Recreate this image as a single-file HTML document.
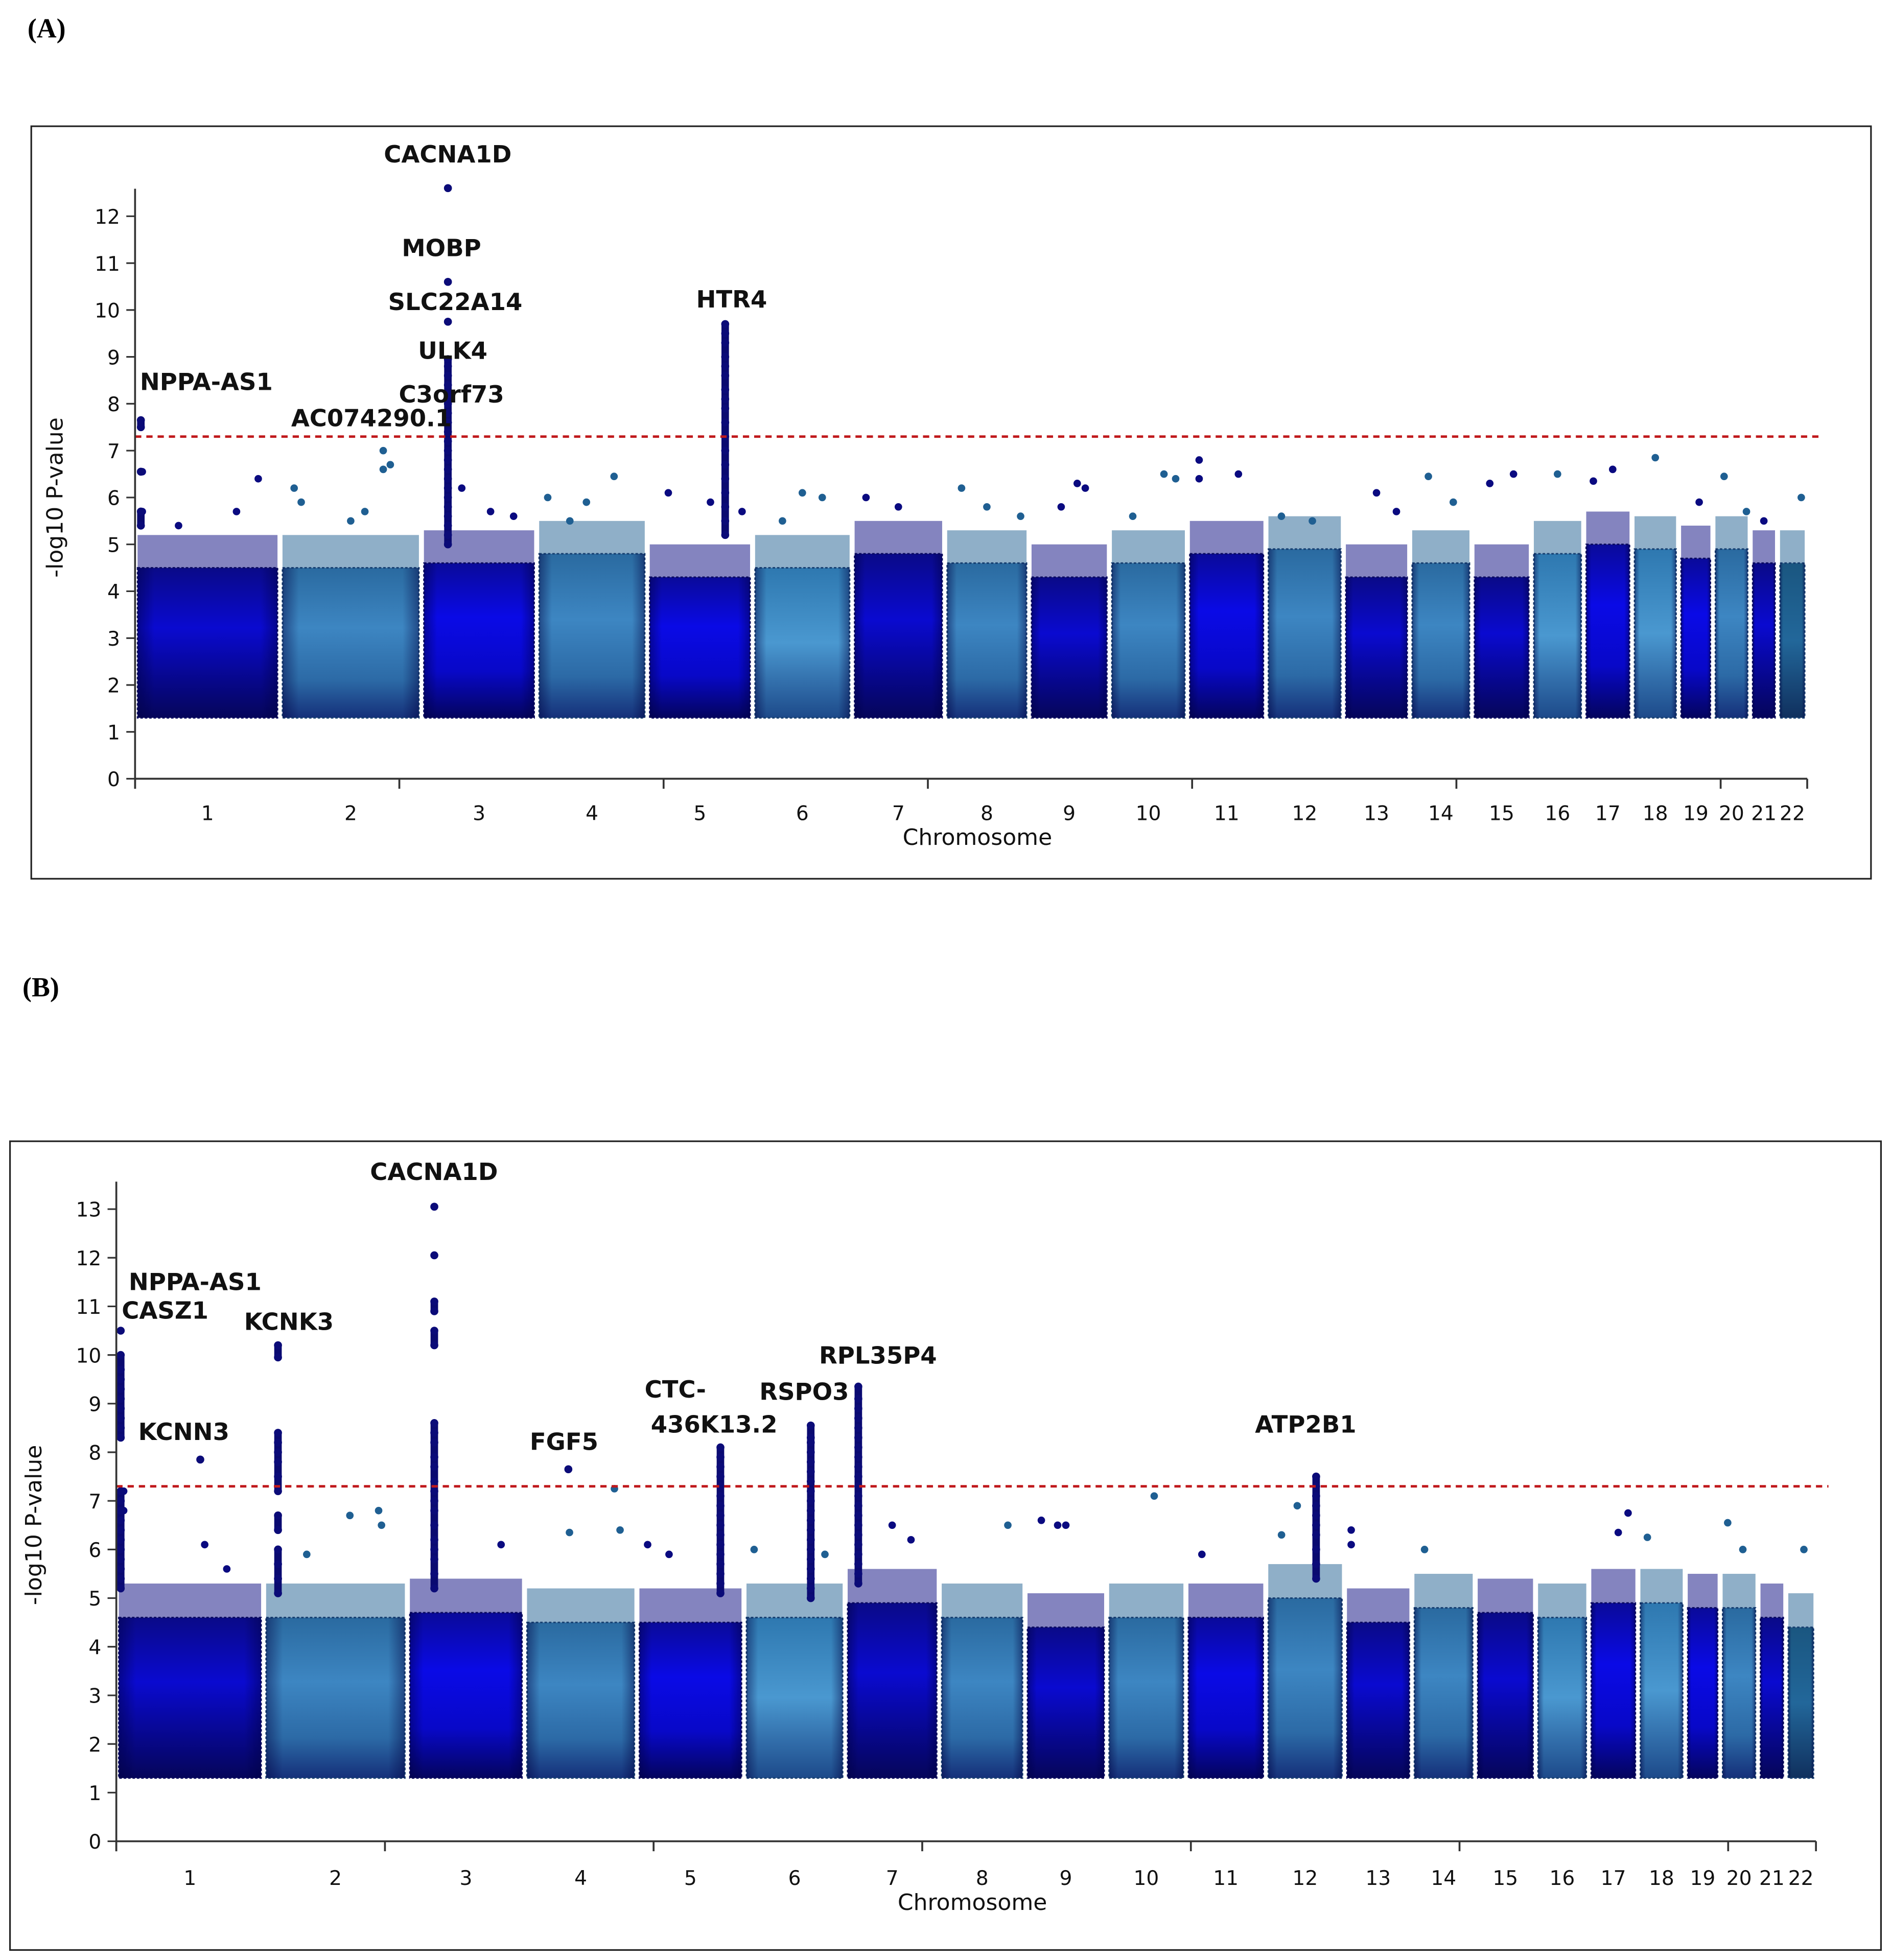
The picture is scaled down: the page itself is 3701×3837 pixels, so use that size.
<!DOCTYPE html>
<html><head><meta charset="utf-8"><style>
html,body{margin:0;padding:0;background:#fff;}
svg{display:block;}
text{font-family:"DejaVu Sans","Liberation Sans",sans-serif;}
</style></head><body>
<svg id="fig" width="3701" height="3837" viewBox="0 0 1512 1568" preserveAspectRatio="none" xmlns="http://www.w3.org/2000/svg">
<defs>
<linearGradient id="gBlue" x1="0" y1="0" x2="0" y2="1">
<stop offset="0" stop-color="#0a0a9a"/><stop offset="0.35" stop-color="#0a0ae6"/><stop offset="0.7" stop-color="#0808c8"/><stop offset="1" stop-color="#04045e"/></linearGradient>
<linearGradient id="gNavy" x1="0" y1="0" x2="0" y2="1">
<stop offset="0" stop-color="#0a0a88"/><stop offset="0.4" stop-color="#0a0ad0"/><stop offset="1" stop-color="#05055a"/></linearGradient>
<linearGradient id="gTeal" x1="0" y1="0" x2="0" y2="1">
<stop offset="0" stop-color="#2a6aa0"/><stop offset="0.4" stop-color="#3d86c2"/><stop offset="0.75" stop-color="#2c6aa6"/><stop offset="1" stop-color="#15307a"/></linearGradient>
<linearGradient id="gLight" x1="0" y1="0" x2="0" y2="1">
<stop offset="0" stop-color="#2e78b0"/><stop offset="0.5" stop-color="#4a98d0"/><stop offset="1" stop-color="#1d4a8a"/></linearGradient>
<linearGradient id="gSlate" x1="0" y1="0" x2="0" y2="1">
<stop offset="0" stop-color="#1a5680"/><stop offset="0.5" stop-color="#22679a"/><stop offset="1" stop-color="#10305e"/></linearGradient>
<linearGradient id="gEdge" x1="0" y1="0" x2="1" y2="0">
<stop offset="0" stop-color="#000040" stop-opacity="0.45"/><stop offset="0.12" stop-color="#000040" stop-opacity="0"/><stop offset="0.88" stop-color="#000040" stop-opacity="0"/><stop offset="1" stop-color="#000040" stop-opacity="0.45"/></linearGradient>
</defs>
<text x="22" y="30" font-weight="bold" font-size="22" style="font-family:'Liberation Serif',serif">(A)</text>
<text x="18" y="797" font-weight="bold" font-size="22" style="font-family:'Liberation Serif',serif">(B)</text>
<rect x="25" y="101" width="1471" height="602" fill="none" stroke="#222" stroke-width="1.3"/>
<rect x="8" y="913" width="1496" height="647" fill="none" stroke="#222" stroke-width="1.3"/>
<g id="pa"></g>
<g id="pb"></g>
</svg>
<script>
const chromosomes = ["1","2","3","4","5","6","7","8","9","10","11","12","13","14","15","16","17","18","19","20","21","22"];
const chromLengths = [249,243,198,190,181,171,159,145,138,134,135,133,114,107,102,90,83,80,59,64,47,51];
const chromFill = ["gNavy","gTeal","gBlue","gTeal","gBlue","gLight","gNavy","gTeal","gNavy","gTeal","gBlue","gTeal","gNavy","gTeal","gNavy","gLight","gBlue","gLight","gBlue","gTeal","gNavy","gSlate"];
const yTicksA = [0,1,2,3,4,5,6,7,8,9,10,11,12];
const yTicksB = [0,1,2,3,4,5,6,7,8,9,10,11,12,13];
const threshold = 7.3;
const blockBase = 1.3;
const aBlockTop = [4.5,4.5,4.6,4.8,4.3,4.5,4.8,4.6,4.3,4.6,4.8,4.9,4.3,4.6,4.3,4.8,5.0,4.9,4.7,4.9,4.6,4.6];
const bBlockTop = [4.6,4.6,4.7,4.5,4.5,4.6,4.9,4.6,4.4,4.6,4.6,5.0,4.5,4.8,4.7,4.6,4.9,4.9,4.8,4.8,4.6,4.4];
const aHits = [[1,.05,6.55],[1,.05,5.7],[1,.85,6.4],[1,.7,5.7],[1,.3,5.4],[2,.1,6.2],[2,.15,5.9],[2,.73,7.0],[2,.73,6.6],[2,.78,6.7],[2,.5,5.5],[2,.6,5.7],[3,.35,6.2],[3,.6,5.7],[3,.8,5.6],[4,.1,6.0],[4,.45,5.9],[4,.7,6.45],[4,.3,5.5],[5,.2,6.1],[5,.6,5.9],[5,.9,5.7],[6,.5,6.1],[6,.7,6.0],[6,.3,5.5],[7,.15,6.0],[7,.5,5.8],[8,.2,6.2],[8,.5,5.8],[8,.9,5.6],[9,.6,6.3],[9,.7,6.2],[9,.4,5.8],[10,.7,6.5],[10,.85,6.4],[10,.3,5.6],[11,.15,6.8],[11,.15,6.4],[11,.65,6.5],[12,.2,5.6],[12,.6,5.5],[13,.5,6.1],[13,.8,5.7],[14,.3,6.45],[14,.7,5.9],[15,.3,6.3],[15,.7,6.5],[16,.5,6.5],[17,.2,6.35],[17,.6,6.6],[18,.5,6.85],[19,.6,5.9],[20,.3,6.45],[20,.9,5.7],[21,.5,5.5],[22,.8,6.0]];
const bHits = [[1,.05,7.2],[1,.05,6.8],[1,.6,6.1],[1,.75,5.6],[2,.3,5.9],[2,.6,6.7],[2,.8,6.8],[2,.82,6.5],[3,.8,6.1],[4,.4,6.35],[4,.8,7.25],[4,.85,6.4],[5,.1,6.1],[5,.3,5.9],[6,.1,6.0],[6,.8,5.9],[7,.5,6.5],[7,.7,6.2],[8,.8,6.5],[9,.2,6.6],[9,.4,6.5],[9,.5,6.5],[10,.6,7.1],[11,.2,5.9],[12,.2,6.3],[12,.4,6.9],[13,.1,6.4],[13,.1,6.1],[14,.2,6.0],[17,.6,6.35],[17,.8,6.75],[18,.2,6.25],[20,.2,6.55],[20,.6,6.0],[22,.6,6.0]];
const aPeaks = [
 {chr:1,frac:.04,vals:[7.65,7.5,6.55,5.7,5.4]},
 {chr:3,frac:.23,vals:[12.6,10.6,9.75,8.95,8.8,8.6,8.4,8.2,8.0,7.8,7.6,7.4,7.2,7.0,6.8,6.6,6.4,6.2,6.0,5.8,5.6,5.4,5.2,5.0]},
 {chr:5,frac:.74,vals:[9.7,9.5,9.3,9.0,8.8,8.6,8.3,8.1,7.9,7.6,7.3,7.0,6.7,6.4,6.1,5.8,5.5,5.2]}
];
const bPeaks = [
 {chr:1,frac:.03,vals:[10.5,10.0,9.7,9.5,9.3,9.1,8.9,8.7,8.5,8.3,7.2,7.0,6.8,6.6,6.4,6.2,6.0,5.8,5.6,5.4,5.2]},
 {chr:1,frac:.57,vals:[7.85]},
 {chr:2,frac:.1,vals:[10.2,9.95,8.4,8.2,8.0,7.8,7.5,7.2,6.7,6.4,6.0,5.7,5.4,5.1]},
 {chr:3,frac:.23,vals:[13.05,12.05,11.1,10.9,10.5,10.2,8.6,8.4,8.2,7.9,7.7,7.4,7.2,7.0,6.8,6.5,6.2,6.0,5.8,5.5,5.2]},
 {chr:4,frac:.39,vals:[7.65]},
 {chr:5,frac:.78,vals:[8.1,7.9,7.7,7.5,7.3,7.1,6.9,6.7,6.5,6.3,6.1,5.9,5.7,5.5,5.3,5.1]},
 {chr:6,frac:.66,vals:[8.55,8.3,8.2,8.0,7.8,7.6,7.4,7.2,7.0,6.8,6.6,6.4,6.2,6.0,5.8,5.6,5.4,5.2,5.0]},
 {chr:7,frac:.14,vals:[9.35,9.1,8.9,8.7,8.5,8.3,8.1,7.9,7.7,7.5,7.3,7.1,6.9,6.7,6.5,6.3,6.1,5.9,5.7,5.5,5.3]},
 {chr:12,frac:.64,vals:[7.5,7.3,7.1,6.9,6.7,6.5,6.3,6.0,5.7,5.4]}
];
const aLabels = [["CACNA1D",358,130],["MOBP",353,205],["SLC22A14",364,248],["ULK4",362,287],["C3orf73",361,322],["AC074290.1",297,341],["NPPA-AS1",165,312],["HTR4",585,246]];
const bLabels = [["CACNA1D",347,944],["NPPA-AS1",156,1032],["CASZ1",132,1055],["KCNK3",231,1064],["KCNN3",147,1152],["FGF5",451,1160],["CTC-",540,1118],["436K13.2",571,1146],["RSPO3",643,1120],["RPL35P4",702,1091],["ATP2B1",1044,1146]];

const NS="http://www.w3.org/2000/svg";
function mk(tag,attrs,parent){const e=document.createElementNS(NS,tag);for(const k in attrs)e.setAttribute(k,attrs[k]);parent.appendChild(e);return e;}

function drawPanel(g,cfg,blockTop,hits,peaks,labels,yTicks,prefix){
  const total=chromLengths.reduce((a,b)=>a+b,0);
  const xs=[];let cum=0;
  for(let i=0;i<chromLengths.length;i++){xs.push(cum);cum+=chromLengths[i];}
  const X=(c,f)=>cfg.x0+(xs[c-1]+f*chromLengths[c-1])/total*(cfg.x1-cfg.x0);
  const Y=v=>cfg.y0-v*cfg.py;
  for(let i=0;i<chromosomes.length;i++){
    const xa=X(i+1,0)+2,xb=X(i+1,1)-2;
    const dark=chromFill[i]==="gBlue"||chromFill[i]==="gNavy";
    const fr=mk('rect',{x:xa,y:Y(blockTop[i]+0.7),width:xb-xa,height:0.7*cfg.py,fill:dark?'#0a0a80':'#1f5f92','fill-opacity':0.5},g);
    
    
    const r=mk('rect',{x:xa,y:Y(blockTop[i]),width:xb-xa,height:(blockTop[i]-blockBase)*cfg.py,fill:'url(#'+chromFill[i]+')',stroke:dark?'#0a0a60':'#163f70','stroke-width':1.2,'stroke-dasharray':'2 1.5'},g);
    
    
    const ed=mk('rect',{x:xa,y:Y(blockTop[i]),width:xb-xa,height:(blockTop[i]-blockBase)*cfg.py,fill:'url(#gEdge)'},g);
    
    
    const t=mk('text',{x:X(i+1,0.5),y:cfg.labY,'text-anchor':'middle','font-size':16,fill:'#111'},g);
    t.textContent=chromosomes[i];
    
    
  }
  hits.forEach(h=>{
    const i=h[0]-1;const dark=chromFill[i]==="gBlue"||chromFill[i]==="gNavy";
    const c=mk('circle',{cx:X(h[0],h[1]),cy:Y(h[2]),r:3,fill:dark?'#0a0a80':'#1f5f92'},g);
    
    
  });
  peaks.forEach(p=>{
    const x=X(p.chr,p.frac);
    const v=p.vals.filter(v=>v>blockTop[p.chr-1]);
    for(let k=0;k<v.length-1;k++){
      if(v[k]-v[k+1]<0.35){const ln=mk('line',{x1:x,y1:Y(v[k]),x2:x,y2:Y(v[k+1]),stroke:'#0a0a70','stroke-width':6},g);
      
      }
    }
    v.forEach(val=>{const c=mk('circle',{cx:x,cy:Y(val),r:3.2,fill:'#0b0b78'},g);
      
      });
  });
  const th=mk('line',{x1:cfg.x0,x2:cfg.x1+10,y1:Y(threshold),y2:Y(threshold),stroke:'#c0191c','stroke-width':2,'stroke-dasharray':'5 4'},g);
  
  
  const ya=mk('line',{x1:cfg.x0,x2:cfg.x0,y1:cfg.y0+8,y2:Y(yTicks[yTicks.length-1])-22,stroke:'#333','stroke-width':1.5},g);
  
  
  const xa=mk('line',{x1:cfg.x0,x2:cfg.x1,y1:cfg.y0,y2:cfg.y0,stroke:'#333','stroke-width':1.5},g);
  
  
  for(let k=0;k<=cfg.nx;k++){const tx=cfg.x0+k*cfg.xstep;if(tx>cfg.x1+1)break;
    const tk=mk('line',{x1:tx,x2:tx,y1:cfg.y0,y2:cfg.y0+8,stroke:'#333','stroke-width':1.5},g);
    
    }
  const te=mk('line',{x1:cfg.x1,x2:cfg.x1,y1:cfg.y0,y2:cfg.y0+8,stroke:'#333','stroke-width':1.5},g);
  
  
  yTicks.forEach(v=>{
    const tk=mk('line',{x1:cfg.x0-7,x2:cfg.x0,y1:Y(v),y2:Y(v),stroke:'#333','stroke-width':1.3},g);
    
    
    const t=mk('text',{x:cfg.x0-12,y:Y(v)+6,'text-anchor':'end','font-size':16,fill:'#111'},g);
    t.textContent=v;
    
    
  });
  const xt=mk('text',{x:(cfg.x0+cfg.x1)/2+5,y:cfg.labY+20,'text-anchor':'middle','font-size':18,fill:'#111'},g);
  xt.textContent='Chromosome';
  
  
  const ytt=mk('text',{x:0,y:0,'text-anchor':'middle','font-size':18,fill:'#111',transform:'translate('+cfg.ytx+','+cfg.yty+') rotate(-90)'},g);
  ytt.textContent='-log10 P-value';
  
  
  labels.forEach(l=>{
    const t=mk('text',{x:l[1],y:l[2],'text-anchor':'middle','font-size':19,'font-weight':'bold',fill:'#111'},g);
    t.textContent=l[0];
    
    
  });
}
drawPanel(document.getElementById('pa'),{x0:108,x1:1445,y0:623,py:37.5,labY:656,nx:6,xstep:211.3,ytx:50,yty:398},aBlockTop,aHits,aPeaks,aLabels,yTicksA,'a');
drawPanel(document.getElementById('pb'),{x0:93,x1:1452,y0:1473,py:38.9,labY:1508,nx:7,xstep:214.8,ytx:33,yty:1220},bBlockTop,bHits,bPeaks,bLabels,yTicksB,'b');
</script>
</body></html>
